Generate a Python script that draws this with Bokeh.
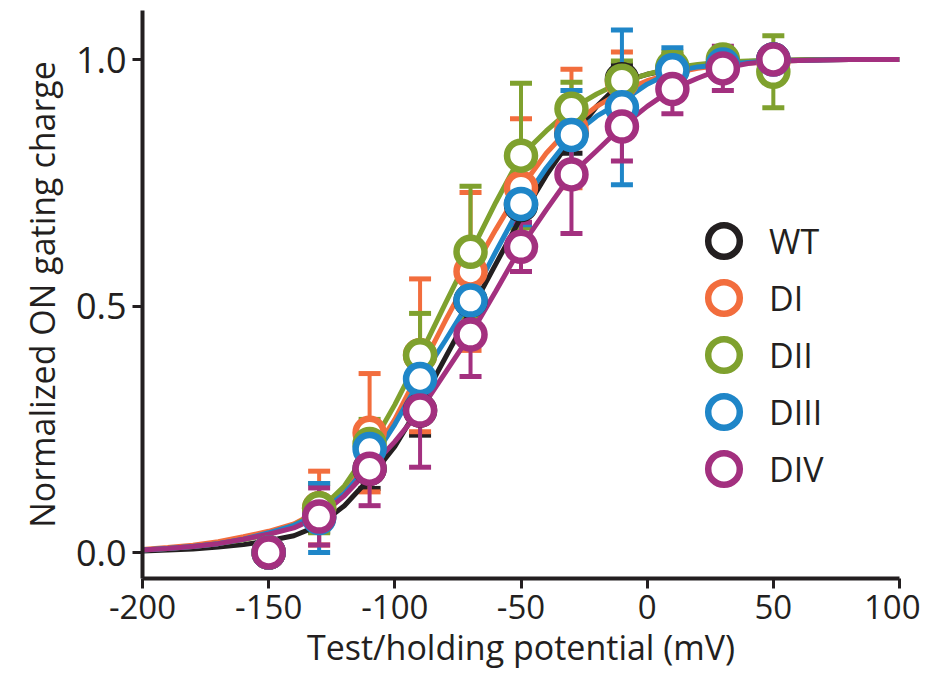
from bokeh.plotting import figure
from bokeh.models import (Whisker, TeeHead, ColumnDataSource, Legend, LegendItem,
                          FixedTicker, Range1d)
from bokeh.embed import file_html
from bokeh.resources import INLINE

# ---- data ----
voltages = [-150, -130, -110, -90, -70, -50, -30, -10, 10, 30, 50]
series_names = ["WT", "DI", "DII", "DIII", "DIV"]

wt_mean = [0.0, 0.072, 0.17, 0.288, 0.511, 0.705, 0.85, 0.96, 0.98, 0.99, 1.0]
wt_err = [0.01, 0.03, 0.04, 0.05, 0.05, 0.04, 0.04, 0.03, 0.02, 0.02, 0.01]
di_mean = [0.0, 0.09, 0.243, 0.40, 0.57, 0.74, 0.86, 0.955, 0.98, 0.99, 0.995]
di_err = [0.01, 0.075, 0.12, 0.155, 0.16, 0.14, 0.12, 0.06, 0.03, 0.02, 0.02]
dii_mean = [0.0, 0.09, 0.22, 0.40, 0.61, 0.805, 0.90, 0.957, 0.985, 1.0, 0.975]
dii_err = [0.01, 0.05, 0.05, 0.085, 0.133, 0.147, 0.054, 0.04, 0.03, 0.02, 0.073]
diii_mean = [0.0, 0.07, 0.21, 0.352, 0.511, 0.707, 0.847, 0.903, 0.978, 0.99, 1.0]
diii_err = [0.01, 0.07, 0.045, 0.05, 0.06, 0.042, 0.09, 0.157, 0.046, 0.03, 0.02]
div_mean = [0.0, 0.073, 0.17, 0.288, 0.442, 0.62, 0.767, 0.864, 0.94, 0.982, 1.0]
div_err = [0.01, 0.058, 0.075, 0.115, 0.085, 0.05, 0.12, 0.07, 0.05, 0.045, 0.02]

curve_v = [-200, -190, -180, -170, -160, -150, -140, -130, -120, -110, -100,
           -90, -80, -70, -60, -50, -40, -30, -20, -10, 0,
           10, 20, 30, 40, 50, 60, 70, 80, 90, 100]
wt_fit = [0.003, 0.005, 0.007, 0.011, 0.016, 0.024, 0.034, 0.055, 0.095, 0.15, 0.215,
          0.30, 0.395, 0.49, 0.585, 0.68, 0.765, 0.84, 0.905, 0.955, 0.97,
          0.98, 0.988, 0.993, 0.996, 0.998, 0.999, 1.0, 1.0, 1.0, 1.0]
di_fit = [0.006, 0.01, 0.015, 0.022, 0.032, 0.043, 0.058, 0.085, 0.13, 0.19, 0.27,
          0.37, 0.47, 0.565, 0.655, 0.74, 0.81, 0.865, 0.905, 0.935, 0.957,
          0.972, 0.982, 0.989, 0.993, 0.996, 0.998, 0.999, 1.0, 1.0, 1.0]
dii_fit = [0.005, 0.008, 0.012, 0.018, 0.026, 0.037, 0.055, 0.085, 0.135, 0.21, 0.30,
           0.40, 0.505, 0.608, 0.71, 0.805, 0.855, 0.90, 0.93, 0.955, 0.97,
           0.983, 0.99, 0.995, 0.997, 0.998, 0.999, 1.0, 1.0, 1.0, 1.0]
diii_fit = [0.005, 0.008, 0.012, 0.018, 0.027, 0.04, 0.055, 0.078, 0.12, 0.18, 0.26,
            0.35, 0.43, 0.513, 0.61, 0.705, 0.78, 0.845, 0.885, 0.915, 0.95,
            0.975, 0.985, 0.99, 0.994, 0.997, 0.998, 0.999, 1.0, 1.0, 1.0]
div_fit = [0.005, 0.008, 0.012, 0.018, 0.027, 0.037, 0.05, 0.073, 0.115, 0.17, 0.225,
           0.288, 0.365, 0.442, 0.53, 0.62, 0.695, 0.767, 0.815, 0.864, 0.905,
           0.94, 0.962, 0.982, 0.992, 0.997, 0.998, 0.999, 1.0, 1.0, 1.0]

x_ticks = [-200, -150, -100, -50, 0, 50, 100]
x_tick_labels = {-200: "-200", -150: "-150", -100: "-100", -50: "-50",
                 0: "0", 50: "50", 100: "100"}
y_ticks = [0.0, 0.5, 1.0]
y_tick_labels = {0.0: "0.0", 0.5: "0.5", 1.0: "1.0"}

colors = ["#231f20", "#f26d3d", "#7fa12e", "#1f86c8", "#a3307f"]
means = [wt_mean, di_mean, dii_mean, diii_mean, div_mean]
errs = [wt_err, di_err, dii_err, diii_err, div_err]
fits = [wt_fit, di_fit, dii_fit, diii_fit, div_fit]

FONT = "Open Sans"
TXT = "#231f20"

p = figure(width=920, height=681, output_backend="svg", toolbar_location=None,
           x_range=Range1d(-200, 100), y_range=Range1d(-0.0527, 1.0994),
           min_border_left=142, min_border_right=21, min_border_top=10,
           min_border_bottom=103)
p.outline_line_color = None
p.grid.visible = False
p.background_fill_color = "white"
p.border_fill_color = "white"

for ax in (p.xaxis[0], p.yaxis[0]):
    ax.axis_line_width = 4
    ax.axis_line_color = TXT
    ax.major_tick_line_width = 3
    ax.major_tick_line_color = TXT
    ax.major_tick_out = 10
    ax.major_tick_in = 0
    ax.minor_tick_line_color = None
    ax.major_label_text_font = FONT
    ax.major_label_text_color = TXT
    ax.axis_label_text_font = FONT
    ax.axis_label_text_color = TXT
    ax.axis_label_text_font_style = "normal"
    ax.axis_label_text_font_size = "34px"

p.xaxis.ticker = FixedTicker(ticks=x_ticks)
p.xaxis.major_label_overrides = x_tick_labels
p.xaxis.major_label_text_font_size = "33px"
p.xaxis.major_label_standoff = 6
p.xaxis.axis_label = "Test/holding potential (mV)"
p.xaxis.axis_label_standoff = 2

p.yaxis.ticker = FixedTicker(ticks=y_ticks)
p.yaxis.major_label_overrides = y_tick_labels
p.yaxis.major_label_text_font_size = "36px"
p.yaxis.major_label_standoff = 6
p.yaxis.axis_label = "Normalized ON gating charge"
p.yaxis.axis_label_standoff = 8

renderers = []
for name, col, m, e, f in zip(series_names, colors, means, errs, fits):
    p.line(curve_v, f, line_color=col, line_width=5)
    src = ColumnDataSource(dict(
        x=voltages, y=m,
        upper=[a + b for a, b in zip(m, e)],
        lower=[a - b for a, b in zip(m, e)]))
    w = Whisker(source=src, base="x", upper="upper", lower="lower",
                line_color=col, line_width=4,
                upper_head=TeeHead(size=22, line_width=5, line_color=col),
                lower_head=TeeHead(size=22, line_width=5, line_color=col))
    p.add_layout(w)
for name, col, m in zip(series_names, colors, means):
    r = p.scatter(voltages, m, marker="circle", size=28, line_width=6.5,
                  line_color=col, fill_color="white")
    renderers.append(r)

# one legend box per entry so that the rows can sit closer than the glyph box
legend_y = [298, 241, 184, 127, 70]
for name, r, ly in zip(series_names, renderers, legend_y):
    lg = Legend(items=[LegendItem(label=name, renderers=[r])], location=(542, ly),
                glyph_width=79, glyph_height=79,
                padding=0, margin=0, label_standoff=6,
                label_text_font=FONT, label_text_font_size="34px",
                label_text_color=TXT, border_line_color=None,
                background_fill_alpha=0)
    p.add_layout(lg, "center")

open("out.html", "w").write(file_html(p, INLINE))
